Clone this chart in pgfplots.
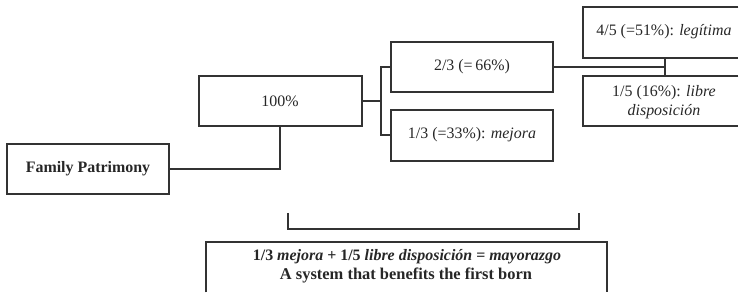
\documentclass[border=0pt]{standalone}
\usepackage{fontspec}
\setmainfont{Liberation Serif}
\usepackage{pgfplots}
\pgfplotsset{compat=1.18}
\begin{document}
\begin{tikzpicture}
\begin{axis}[
  width=739bp, height=293bp, scale only axis,
  xmin=0, xmax=739, ymin=0, ymax=293, y dir=reverse,
  axis lines=none, clip=false,
  lnk/.style={draw=black!80, line width=1.1bp, line join=miter, solid, mark=none},
]
% frame of the picture (invisible)
\addplot[draw=none, mark=none] coordinates {(0,0)(739,293)};
% boxes
\addplot[lnk] coordinates {(7,144)(169,144)(169,194)(7,194)(7,144)(169,144)};
\addplot[lnk] coordinates {(199,76)(362,76)(362,126)(199,126)(199,76)(362,76)};
\addplot[lnk] coordinates {(391,42)(553,42)(553,92)(391,92)(391,42)(553,42)};
\addplot[lnk] coordinates {(391,110)(553,110)(553,161)(391,161)(391,110)(553,110)};
\addplot[lnk] coordinates {(738.5,7)(583,7)(583,58)(738.5,58)};
\addplot[lnk] coordinates {(738.5,76)(583,76)(583,126)(738.5,126)};
\addplot[lnk] coordinates {(206,292.5)(206,242)(607,242)(607,292.5)};
% connectors
\addplot[lnk] coordinates {(169,169)(280,169)(280,126)};
\addplot[lnk] coordinates {(362,101)(381,101)};
\addplot[lnk] coordinates {(391,67)(381,67)(381,135)(391,135)};
\addplot[lnk] coordinates {(553,67)(665,67)};
\addplot[lnk] coordinates {(665,58)(665,76)};
\addplot[lnk] coordinates {(288,213)(288,229)(579,229)(579,213)};
% texts
\begin{scope}[every node/.style={font=\fontsize{16}{19}\selectfont, text=black!85, align=center}]
\node at (axis cs:88,169) {\textbf{Family Patrimony}};
\node at (axis cs:280,101) {100\%};
\node at (axis cs:472,67) {2/3 (=\,66\%)};
\node at (axis cs:472,135) {1/3 (=33\%): \textit{mejora}};
\node at (axis cs:664,32) {4/5 (=51\%): \textit{legítima}};
\node at (axis cs:664,102) {1/5 (16\%): \textit{libre}\\\textit{disposición}};
\node at (axis cs:407,257) {\textbf{1/3 \textit{mejora} + 1/5 \textit{libre disposición} = \textit{mayorazgo}}};
\node[font=\fontsize{16.5}{19}\selectfont] at (axis cs:406,276) {\textbf{A system that benefits the first born}};
\end{scope}
\end{axis}
\end{tikzpicture}
\end{document}
